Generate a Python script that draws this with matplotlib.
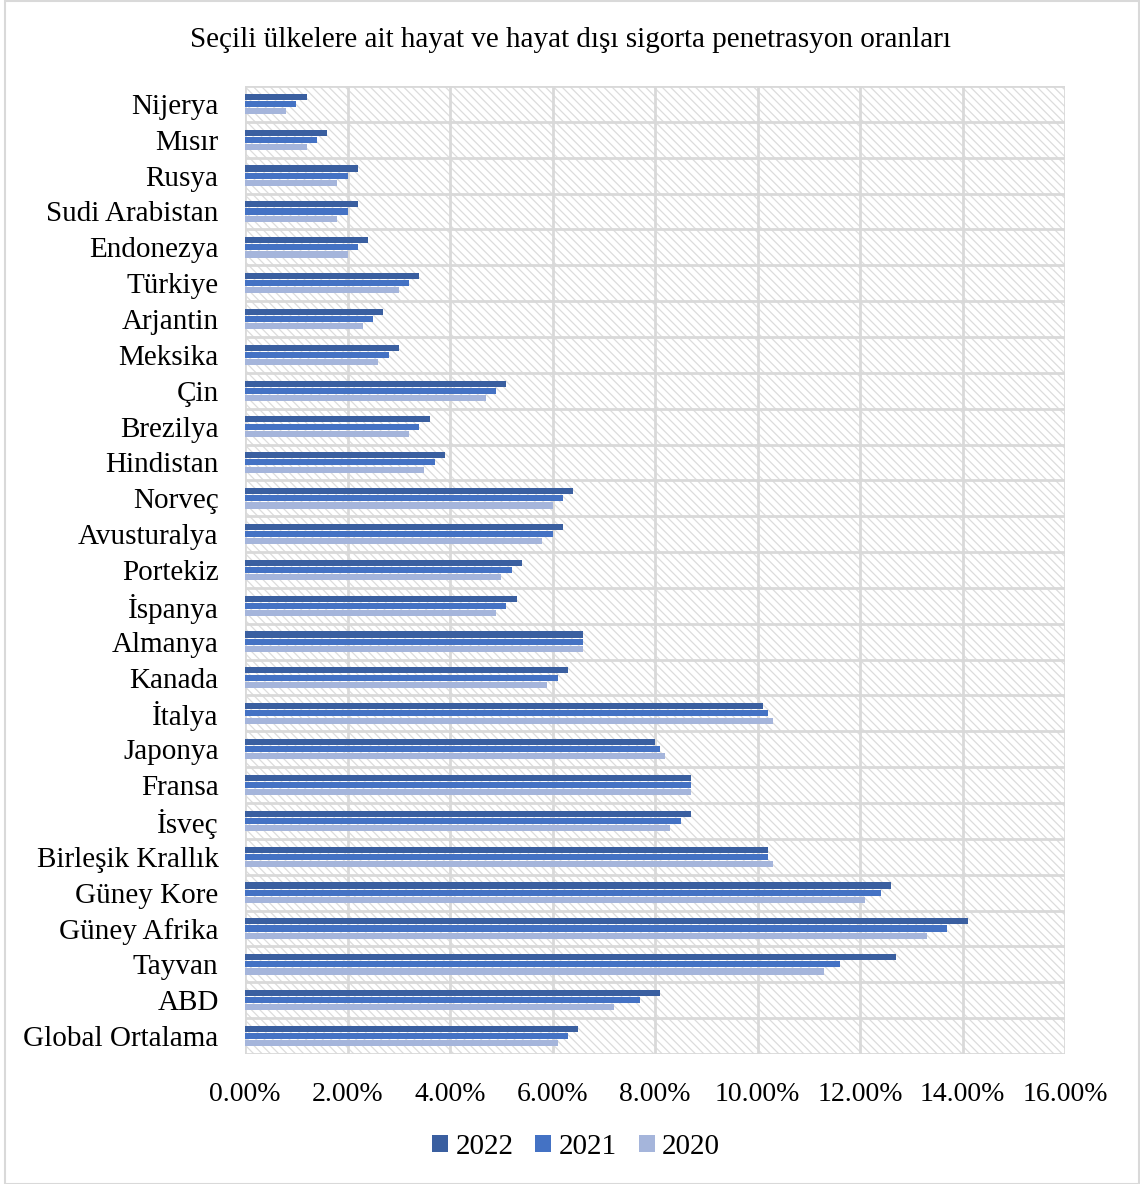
import matplotlib
matplotlib.use("Agg")
import matplotlib.pyplot as plt
import numpy as np
from matplotlib.patches import Rectangle
from matplotlib.ticker import FuncFormatter, MultipleLocator

plt.rcParams['font.family'] = ['Liberation Serif', 'DejaVu Serif']
plt.rcParams['hatch.linewidth'] = 0.9

title = "Seçili ülkelere ait hayat ve hayat dışı sigorta penetrasyon oranları"

# categories from top to bottom as shown
categories = ["Nijerya", "Mısır", "Rusya", "Sudi Arabistan", "Endonezya", "Türkiye",
              "Arjantin", "Meksika", "Çin", "Brezilya", "Hindistan", "Norveç",
              "Avusturalya", "Portekiz", "İspanya", "Almanya", "Kanada", "İtalya",
              "Japonya", "Fransa", "İsveç", "Birleşik Krallık", "Güney Kore",
              "Güney Afrika", "Tayvan", "ABD", "Global Ortalama"]

v2022 = [1.2, 1.6, 2.2, 2.2, 2.4, 3.4, 2.7, 3.0, 5.1, 3.6, 3.9, 6.4, 6.2, 5.4, 5.3,
         6.6, 6.3, 10.1, 8.0, 8.7, 8.7, 10.2, 12.6, 14.1, 12.7, 8.1, 6.5]
v2021 = [1.0, 1.4, 2.0, 2.0, 2.2, 3.2, 2.5, 2.8, 4.9, 3.4, 3.7, 6.2, 6.0, 5.2, 5.1,
         6.6, 6.1, 10.2, 8.1, 8.7, 8.5, 10.2, 12.4, 13.7, 11.6, 7.7, 6.3]
v2020 = [0.8, 1.2, 1.8, 1.8, 2.0, 3.0, 2.3, 2.6, 4.7, 3.2, 3.5, 6.0, 5.8, 5.0, 4.9,
         6.6, 5.9, 10.3, 8.2, 8.7, 8.3, 10.3, 12.1, 13.3, 11.3, 7.2, 6.1]

series_names = ["2022", "2021", "2020"]
colors = ["#3A5FA0", "#4472C4", "#A5B5DB"]

fig = plt.figure(figsize=(11.4, 11.84), dpi=100)
ax = fig.add_axes([245/1140, 1 - 1054/1184, (1065-245)/1140, (1054-86)/1184])

n = len(categories)
y = np.arange(n)
h = 0.17
offs = [-0.2, 0.0, 0.2]
for vals, off, c, name in zip([v2022, v2021, v2020], offs, colors, series_names):
    ax.barh(y + off, vals, height=h, color=c, label=name, zorder=3, linewidth=0)

ax.set_ylim(n - 0.5, -0.5)
ax.set_xlim(0, 16)

# hatched background
bg = Rectangle((0, 0), 1, 1, transform=ax.transAxes, facecolor='white',
               edgecolor='#DCDCDC', hatch='\\\\\\\\', linewidth=0, zorder=0)
ax.add_patch(bg)

ax.xaxis.set_major_locator(MultipleLocator(2))
ax.xaxis.set_major_formatter(FuncFormatter(lambda v, p: f"{v:.2f}%"))
ax.set_yticks(y)
ax.set_yticklabels(categories)
ax.set_yticks(np.arange(-0.5, n, 1.0), minor=True)

ax.grid(axis='x', which='major', color='#D9D9D9', linewidth=2, zorder=1)
ax.grid(axis='y', which='minor', color='#D9D9D9', linewidth=2, zorder=1)
ax.tick_params(axis='both', which='both', length=0)
ax.tick_params(axis='y', labelsize=21, pad=19)
ax.tick_params(axis='x', labelsize=20, pad=20)
for s in ax.spines.values():
    s.set_visible(False)

fig.text(0.5, 1 - 40/1184, title, ha='center', va='center', fontsize=21)

handles, labels = ax.get_legend_handles_labels()
fig.legend(handles, labels, loc='center', bbox_to_anchor=(576/1140, 1 - 1147/1184),
           ncol=3, frameon=False, fontsize=21, handlelength=0.55, handleheight=0.55,
           handletextpad=0.25, columnspacing=0.75)

fig.add_artist(Rectangle((5/1140, 0.5/1184), 1 - 6/1140, 1 - 1.5/1184,
                         transform=fig.transFigure, fill=False,
                         edgecolor='#D9D9D9', linewidth=1.5))

fig.savefig("out.png", dpi=100)
